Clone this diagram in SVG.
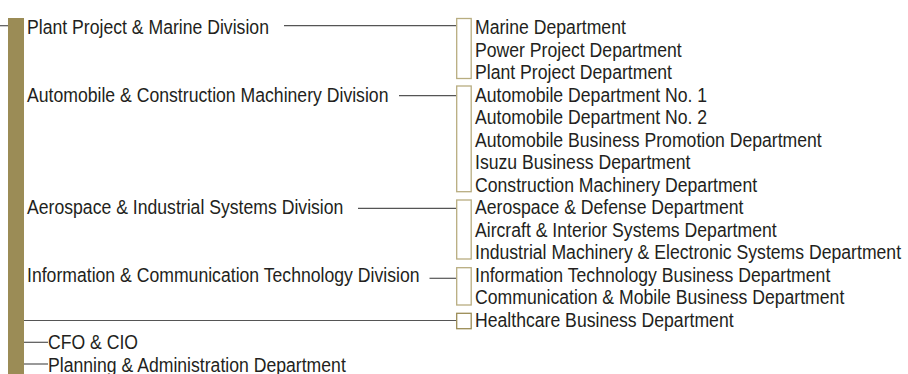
<svg xmlns="http://www.w3.org/2000/svg" width="908" height="374" viewBox="0 0 908 374">
<style>
text{font-family:"Liberation Sans",Arial,sans-serif;font-size:21px;fill:#231f20}
.ln{stroke:#555;stroke-width:1.2;fill:none}
.br{stroke:#b8ad80;stroke-width:1.3;fill:#fff}
.br2{stroke:#9b8c55;stroke-width:1.3;fill:#fff}
</style>
<rect x="8" y="18" width="16" height="360" fill="#9b8c56"/>
<g id="connectors">
<line class="ln" x1="0" y1="25.7" x2="8" y2="25.7"/>
<line class="ln" x1="284" y1="25.7" x2="456.5" y2="25.7"/>
<line class="ln" x1="399" y1="95.7" x2="456.5" y2="95.7"/>
<line class="ln" x1="358" y1="208.3" x2="456.5" y2="208.3"/>
<line class="ln" x1="429.5" y1="278.3" x2="456.5" y2="278.3"/>
<line class="ln" x1="24" y1="320.5" x2="456.5" y2="320.5"/>
<line class="ln" x1="24" y1="342.3" x2="48" y2="342.3"/>
<line class="ln" x1="24" y1="364" x2="48" y2="364"/>
</g>
<g id="div-plant"><text transform="matrix(0.84 0 0 1 27 34)">Plant Project &amp; Marine Division</text></g>
<g id="div-auto"><text transform="matrix(0.84 0 0 1 27 101.5)">Automobile &amp; Construction Machinery Division</text></g>
<g id="div-aero"><text transform="matrix(0.84 0 0 1 27 214)">Aerospace &amp; Industrial Systems Division</text></g>
<g id="div-ict"><text transform="matrix(0.84 0 0 1 27 281.5)">Information &amp; Communication Technology Division</text></g>
<g id="cfo"><text transform="matrix(0.84 0 0 1 48 349)">CFO &amp; CIO</text></g>
<g id="planning"><text transform="matrix(0.84 0 0 1 48 371.5)">Planning &amp; Administration Department</text></g>
<g id="grp-plant">
<rect class="br" x="456.7" y="18.5" width="14.5" height="60"/>
<text transform="matrix(0.84 0 0 1 475 34)">Marine Department</text>
<text transform="matrix(0.84 0 0 1 475 56.5)">Power Project Department</text>
<text transform="matrix(0.84 0 0 1 475 79)">Plant Project Department</text>
</g>
<g id="grp-auto">
<rect class="br" x="456.7" y="86" width="14.5" height="105.7"/>
<text transform="matrix(0.84 0 0 1 475 101.5)">Automobile Department No. 1</text>
<text transform="matrix(0.84 0 0 1 475 124)">Automobile Department No. 2</text>
<text transform="matrix(0.84 0 0 1 475 146.5)">Automobile Business Promotion Department</text>
<text transform="matrix(0.84 0 0 1 475 169)">Isuzu Business Department</text>
<text transform="matrix(0.84 0 0 1 475 191.5)">Construction Machinery Department</text>
</g>
<g id="grp-aero">
<rect class="br" x="456.7" y="200" width="14.5" height="59"/>
<text transform="matrix(0.84 0 0 1 475 214)">Aerospace &amp; Defense Department</text>
<text transform="matrix(0.84 0 0 1 475 236.5)">Aircraft &amp; Interior Systems Department</text>
<text transform="matrix(0.84 0 0 1 475 259)">Industrial Machinery &amp; Electronic Systems Department</text>
</g>
<g id="grp-ict">
<rect class="br" x="456.7" y="267.7" width="14.5" height="37.3"/>
<text transform="matrix(0.84 0 0 1 475 281.5)">Information Technology Business Department</text>
<text transform="matrix(0.84 0 0 1 475 304)">Communication &amp; Mobile Business Department</text>
</g>
<g id="grp-health">
<rect class="br2" x="456.7" y="313.3" width="14.5" height="15.4"/>
<text transform="matrix(0.84 0 0 1 475 326.5)">Healthcare Business Department</text>
</g>
</svg>
